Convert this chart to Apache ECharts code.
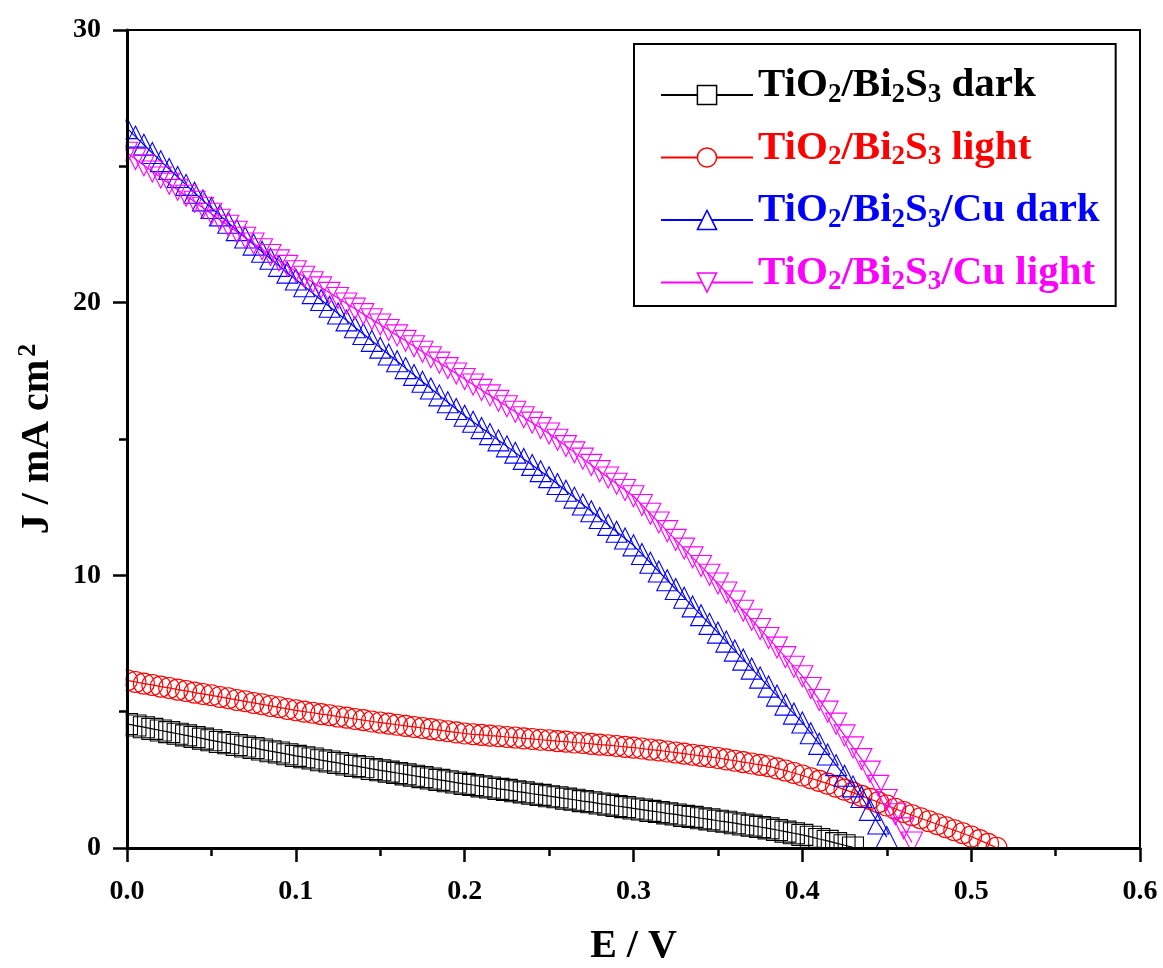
<!DOCTYPE html>
<html>
<head>
<meta charset="utf-8">
<title>J–E curves</title>
<script src="https://cdn.jsdelivr.net/npm/echarts@6/dist/echarts.min.js"></script>
<style>
  html, body { margin: 0; padding: 0; background: #fff; }
  #chart { width: 1163px; height: 968px; }
</style>
</head>
<body>
<div id="chart"></div>
<script>
// Potential sweep (V), 5 mV steps
const potential = [
  0.000, 0.005, 0.010, 0.015, 0.020, 0.025, 0.030, 0.035, 0.040, 0.045,
  0.050, 0.055, 0.060, 0.065, 0.070, 0.075, 0.080, 0.085, 0.090, 0.095,
  0.100, 0.105, 0.110, 0.115, 0.120, 0.125, 0.130, 0.135, 0.140, 0.145,
  0.150, 0.155, 0.160, 0.165, 0.170, 0.175, 0.180, 0.185, 0.190, 0.195,
  0.200, 0.205, 0.210, 0.215, 0.220, 0.225, 0.230, 0.235, 0.240, 0.245,
  0.250, 0.255, 0.260, 0.265, 0.270, 0.275, 0.280, 0.285, 0.290, 0.295,
  0.300, 0.305, 0.310, 0.315, 0.320, 0.325, 0.330, 0.335, 0.340, 0.345,
  0.350, 0.355, 0.360, 0.365, 0.370, 0.375, 0.380, 0.385, 0.390, 0.395,
  0.400, 0.405, 0.410, 0.415, 0.420, 0.425, 0.430, 0.435, 0.440, 0.445,
  0.450, 0.455, 0.460, 0.465, 0.470, 0.475, 0.480, 0.485, 0.490, 0.495,
  0.500, 0.505, 0.510, 0.515
];

// Current density (mA cm^-2) at each potential above
const jBi2S3Dark = [
  4.55, 4.49, 4.43, 4.37, 4.31, 4.25, 4.19, 4.13, 4.07, 4.01,
  3.95, 3.89, 3.84, 3.78, 3.72, 3.67, 3.61, 3.55, 3.50, 3.44,
  3.38, 3.33, 3.28, 3.22, 3.17, 3.12, 3.06, 3.01, 2.96, 2.90,
  2.85, 2.80, 2.75, 2.70, 2.65, 2.60, 2.55, 2.50, 2.45, 2.40,
  2.35, 2.31, 2.26, 2.22, 2.17, 2.13, 2.08, 2.04, 1.99, 1.95,
  1.90, 1.86, 1.81, 1.77, 1.72, 1.68, 1.63, 1.59, 1.54, 1.50,
  1.45, 1.41, 1.36, 1.32, 1.27, 1.23, 1.18, 1.14, 1.09, 1.05,
  1.00, 0.96, 0.91, 0.86, 0.82, 0.77, 0.72, 0.66, 0.60, 0.54,
  0.48, 0.41, 0.33, 0.26, 0.18, 0.10, 0.02
];

const jBi2S3Light = [
  6.15, 6.09, 6.03, 5.98, 5.92, 5.87, 5.81, 5.76, 5.70, 5.65,
  5.60, 5.54, 5.49, 5.43, 5.38, 5.32, 5.27, 5.21, 5.16, 5.10,
  5.05, 5.00, 4.96, 4.91, 4.87, 4.82, 4.78, 4.73, 4.69, 4.64,
  4.60, 4.56, 4.52, 4.48, 4.44, 4.40, 4.36, 4.32, 4.28, 4.24,
  4.20, 4.17, 4.15, 4.12, 4.10, 4.07, 4.05, 4.02, 4.00, 3.97,
  3.95, 3.92, 3.90, 3.87, 3.85, 3.82, 3.79, 3.77, 3.74, 3.71,
  3.68, 3.65, 3.61, 3.58, 3.54, 3.50, 3.46, 3.42, 3.38, 3.34,
  3.30, 3.25, 3.20, 3.15, 3.10, 3.05, 3.00, 2.92, 2.84, 2.75,
  2.66, 2.56, 2.46, 2.36, 2.25, 2.14, 2.03, 1.91, 1.80, 1.68,
  1.56, 1.44, 1.32, 1.20, 1.09, 0.98, 0.87, 0.76, 0.65, 0.54,
  0.42, 0.29, 0.15, 0.01
];

const jCuDark = [
  26.40, 26.09, 25.79, 25.49, 25.19, 24.90, 24.61, 24.32, 24.03, 23.75,
  23.47, 23.20, 22.93, 22.66, 22.39, 22.13, 21.87, 21.61, 21.35, 21.10,
  20.85, 20.60, 20.35, 20.10, 19.85, 19.60, 19.35, 19.10, 18.85, 18.60,
  18.35, 18.10, 17.85, 17.60, 17.35, 17.10, 16.85, 16.60, 16.35, 16.10,
  15.85, 15.63, 15.40, 15.18, 14.95, 14.73, 14.50, 14.27, 14.05, 13.82,
  13.60, 13.35, 13.10, 12.85, 12.60, 12.35, 12.10, 11.85, 11.60, 11.35,
  11.10, 10.78, 10.46, 10.14, 9.82, 9.50, 9.18, 8.86, 8.54, 8.22,
  7.90, 7.57, 7.24, 6.91, 6.58, 6.25, 5.92, 5.59, 5.26, 4.93,
  4.60, 4.21, 3.82, 3.43, 3.04, 2.65, 2.26, 1.87, 1.40, 0.90,
  0.40
];

const jCuLight = [
  25.50, 25.27, 25.04, 24.81, 24.59, 24.36, 24.14, 23.92, 23.70, 23.48,
  23.26, 23.04, 22.82, 22.60, 22.38, 22.17, 21.96, 21.75, 21.55, 21.35,
  21.15, 20.95, 20.75, 20.56, 20.36, 20.17, 19.97, 19.78, 19.58, 19.39,
  19.20, 19.00, 18.80, 18.60, 18.40, 18.20, 18.00, 17.80, 17.60, 17.40,
  17.20, 17.00, 16.80, 16.60, 16.40, 16.20, 16.00, 15.80, 15.60, 15.40,
  15.20, 14.97, 14.74, 14.51, 14.28, 14.05, 13.82, 13.59, 13.36, 13.13,
  12.90, 12.58, 12.26, 11.94, 11.62, 11.30, 10.98, 10.66, 10.34, 10.02,
  9.70, 9.37, 9.04, 8.70, 8.37, 8.03, 7.70, 7.35, 7.00, 6.65,
  6.30, 5.87, 5.43, 5.00, 4.56, 4.13, 3.69, 3.26, 2.80, 2.28,
  1.76, 1.24, 0.72, 0.20
];

const seriesNames = [
  'TiO2/Bi2S3 dark',
  'TiO2/Bi2S3 light',
  'TiO2/Bi2S3/Cu dark',
  'TiO2/Bi2S3/Cu light'
];
const seriesValues = [jBi2S3Dark, jBi2S3Light, jCuDark, jCuLight];
const seriesColors = ['#000000', '#ff0000', '#0000ff', '#ff00ff'];
const seriesSymbols = ['rect', 'circle', 'triangle', 'triangle'];
const seriesSymbolRotate = [0, 0, 0, 180];

const xTicks = [0, 0.6, 0.1];   // min, max, step
const yTicks = [0, 30, 10];

const FONT = '"Liberation Serif", "Times New Roman", serif';

// Turn digits of a formula into subscript rich-text tokens
function chemRich(name) {
  return '{t|' + name.replace(/(\d)/g, '}{s|$1}{t|') + '}';
}

const chart = echarts.init(document.getElementById('chart'), null, { renderer: 'canvas' });

// Hollow, unfilled markers so that the dense sweep reads as a hatched band
const series = seriesNames.map((name, k) => ({
  name: name,
  type: 'line',
  data: seriesValues[k].map((j, i) => [potential[i], j]),
  symbol: seriesSymbols[k],
  symbolRotate: seriesSymbolRotate[k],
  symbolSize: 21,
  showAllSymbol: true,
  clip: true,
  animation: false,
  color: seriesColors[k],
  itemStyle: { color: 'rgba(255,255,255,0)', borderColor: seriesColors[k], borderWidth: 1.1 },
  lineStyle: { color: seriesColors[k], width: 1.2 },
  emphasis: { disabled: true }
}));

const axisText = { color: '#000', fontFamily: FONT, fontWeight: 'bold' };

chart.setOption({
  backgroundColor: '#fff',
  animation: false,
  grid: {
    left: 127, right: 23, top: 30, bottom: 120,
    containLabel: false,
    outerBoundsMode: 'none',
    show: true, borderColor: '#000', borderWidth: 2, backgroundColor: 'transparent'
  },
  legend: {
    orient: 'vertical',
    left: 634, top: 44,
    padding: [21, 16, 10, 26],
    itemGap: 19,
    itemWidth: 92,
    itemHeight: 24,
    borderColor: '#000',
    borderWidth: 2,
    backgroundColor: '#fff',
    selectedMode: false,
    data: seriesNames.map((n, k) => ({
      name: n,
      textStyle: { color: seriesColors[k] },
      itemStyle: { color: '#fff', borderColor: seriesColors[k], borderWidth: 1.5 }
    })),
    formatter: chemRich,
    textStyle: {
      fontFamily: FONT, fontWeight: 'bold', fontSize: 41,
      rich: {
        t: { fontFamily: FONT, fontWeight: 'bold', fontSize: 41, padding: [0, 0, 19, 0] },
        s: { fontFamily: FONT, fontWeight: 'bold', fontSize: 27 }
      }
    }
  },
  xAxis: {
    type: 'value',
    min: xTicks[0], max: xTicks[1], interval: xTicks[2],
    z: 60,
    name: 'E / V',
    nameLocation: 'middle',
    nameGap: 79,
    nameTextStyle: Object.assign({ fontSize: 40 }, axisText),
    axisLine: { show: true, onZero: false, lineStyle: { color: '#000', width: 3 } },
    axisTick: { show: true, inside: false, length: 14, lineStyle: { color: '#000', width: 2.5 } },
    minorTick: { show: true, splitNumber: 2, length: 8, lineStyle: { color: '#000', width: 2.5 } },
    splitLine: { show: false },
    axisLabel: Object.assign({
      fontSize: 28, margin: 30,
      formatter: v => v.toFixed(1)
    }, axisText)
  },
  yAxis: {
    type: 'value',
    min: yTicks[0], max: yTicks[1], interval: yTicks[2],
    z: 60,
    name: '{a|J / mA cm}{p|2}',
    nameLocation: 'middle',
    nameRotate: 90,
    nameGap: 66,
    nameTextStyle: Object.assign({
      fontSize: 40,
      rich: {
        a: { fontFamily: FONT, fontWeight: 'bold', fontSize: 40, color: '#000' },
        p: { fontFamily: FONT, fontWeight: 'bold', fontSize: 26, color: '#000', verticalAlign: 'top', padding: [0, 0, 20, 3] }
      }
    }, axisText),
    axisLine: { show: true, onZero: false, lineStyle: { color: '#000', width: 3 } },
    axisTick: { show: true, inside: false, length: 14, lineStyle: { color: '#000', width: 2.5 } },
    minorTick: { show: true, splitNumber: 2, length: 8, lineStyle: { color: '#000', width: 2.5 } },
    splitLine: { show: false },
    axisLabel: Object.assign({ fontSize: 28, margin: 26 }, axisText)
  },
  series: series
});

// Trim symbols that spill past the left and bottom axes
const origin = chart.convertToPixel({ gridIndex: 0 }, [xTicks[0], yTicks[0]]);
const corner = chart.convertToPixel({ gridIndex: 0 }, [xTicks[1], yTicks[1]]);
chart.setOption({
  graphic: [
    {
      type: 'rect', z: 50, silent: true,
      shape: { x: origin[0] - 24, y: corner[1] - 12, width: 22.5, height: origin[1] - corner[1] + 36 },
      style: { fill: '#fff' }
    },
    {
      type: 'rect', z: 50, silent: true,
      shape: { x: origin[0] - 24, y: origin[1] + 1.5, width: corner[0] - origin[0] + 48, height: 24 },
      style: { fill: '#fff' }
    }
  ]
});
</script>
</body>
</html>
